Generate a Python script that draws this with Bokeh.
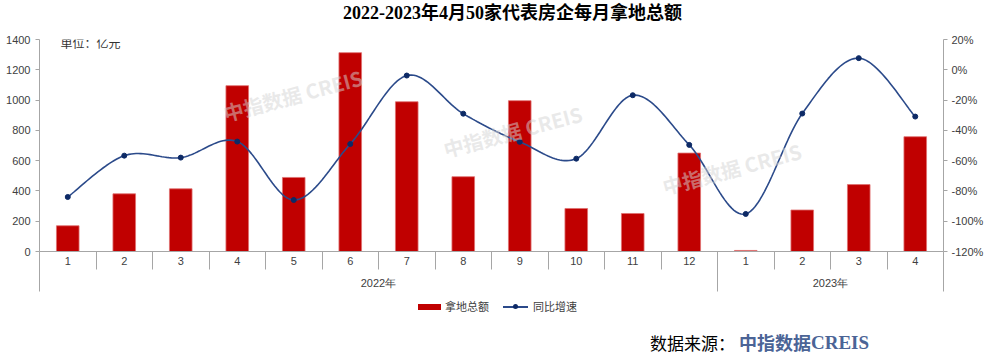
import numpy as np
from bokeh.plotting import figure
from bokeh.models import (Range1d, LinearAxis, FixedTicker, PrintfTickFormatter,
                          Label, Div)
from bokeh.layouts import column
from bokeh.embed import file_html
from bokeh.resources import INLINE

# ---------------- data ----------------
months = ["1", "2", "3", "4", "5", "6", "7", "8", "9", "10", "11", "12",
          "1", "2", "3", "4"]
years = ["2022年", "2023年"]
year_counts = [12, 4]
land_total = [170, 381, 414, 1095, 489, 1313, 989, 494, 996, 284, 251, 650,
              7, 274, 442, 758]               # 亿元
yoy_growth = [-84.0, -56.7, -58.0, -47.4, -86.0, -49.0, -3.8, -29.0, -47.6,
              -58.7, -16.8, -49.6, -95.2, -28.9, 7.7, -30.9]   # %
left_ticks = [0, 200, 400, 600, 800, 1000, 1200, 1400]
right_ticks = [-120, -100, -80, -60, -40, -20, 0, 20]
series_names = ["拿地总额", "同比增速"]
title_text = "2022-2023年4月50家代表房企每月拿地总额"
unit_text = "单位：亿元"
source_label = "数据来源："
source_brand = "中指数据"
source_brand_latin = "CREIS"
watermark = source_brand + " " + source_brand_latin

BAR_RED = "#c00000"
LINE_BLUE = "#2b4a8a"
DOT_BLUE = "#0d2a66"
AX = "#a6a6a6"
LBL = "#404040"

x = np.arange(1, len(months) + 1)


def smooth(xs, ys, n=24):
    """Smoothed display curve through the data points (Excel-style)."""
    P = np.column_stack([xs, ys]).astype(float)
    P = np.vstack([P[0], P, P[-1]])
    out = []
    t = np.linspace(0, 1, n, endpoint=False)[:, None]
    for i in range(1, len(P) - 2):
        p0, p1, p2, p3 = P[i - 1], P[i], P[i + 1], P[i + 2]
        seg = 0.5 * ((2 * p1) + (-p0 + p2) * t + (2 * p0 - 5 * p1 + 4 * p2 - p3) * t ** 2
                     + (-p0 + 3 * p1 - 3 * p2 + p3) * t ** 3)
        out.append(seg)
    out.append(P[-2][None, :])
    c = np.vstack(out)
    return c[:, 0], c[:, 1]


# ---------------- title (HTML row above the plot) ----------------
title_div = Div(text=('<div style="height:28px;display:flex;align-items:center;'
                      'padding-left:343px;white-space:nowrap;font-family:\'Liberation Serif\','
                      '\'Noto Sans CJK SC\';font-weight:bold;font-size:18px;color:#000">%s</div>')
                % title_text, width=986, height=28, margin=0)

# ---------------- plot ----------------
p = figure(width=986, height=268, x_range=Range1d(0.5, len(months) + 0.5),
           y_range=Range1d(0, 1400), output_backend="svg", toolbar_location=None,
           x_axis_location=None, y_axis_location=None,
           min_border_left=39, min_border_right=43, min_border_top=11,
           min_border_bottom=45, margin=0)
p.extra_y_ranges = {"pct": Range1d(-120, 20)}
p.grid.visible = False
p.outline_line_color = None


def style_axis(a):
    a.axis_line_color = AX
    a.major_tick_line_color = AX
    a.minor_tick_line_color = AX
    a.major_label_text_font = "Liberation Sans"
    a.major_label_text_font_size = "11px"
    a.major_label_text_color = LBL
    a.major_tick_in = 0
    a.minor_tick_in = 0
    a.minor_tick_out = 0


yl = LinearAxis(ticker=FixedTicker(ticks=left_ticks))
style_axis(yl)
yl.major_tick_out = 4
yl.major_label_standoff = 5
p.add_layout(yl, "left")

yr = LinearAxis(y_range_name="pct", ticker=FixedTicker(ticks=right_ticks),
                formatter=PrintfTickFormatter(format="%d%%"))
style_axis(yr)
yr.major_tick_out = 4
yr.major_label_standoff = 4
p.add_layout(yr, "right")

bounds = [i + 0.5 for i in range(len(months) + 1)]
xm = LinearAxis(ticker=FixedTicker(ticks=list(x), minor_ticks=bounds),
                major_label_overrides={int(i): m for i, m in zip(x, months)})
style_axis(xm)
xm.major_tick_out = 0
xm.minor_tick_out = 18
xm.major_label_standoff = -13
p.add_layout(xm, "below")

edges = np.concatenate([[0.5], 0.5 + np.cumsum(year_counts)])
centers = (edges[:-1] + edges[1:]) / 2
xy = LinearAxis(ticker=FixedTicker(ticks=list(centers), minor_ticks=list(edges)),
                major_label_overrides={float(c): y for c, y in zip(centers, years)})
style_axis(xy)
xy.axis_line_color = None
xy.major_tick_out = 0
xy.minor_tick_out = 24
xy.major_label_standoff = -15
p.add_layout(xy, "below")

bars = p.vbar(x=x, top=land_total, width=0.4, fill_color=BAR_RED,
              line_color="#e07070", line_width=0.8)

sx, sy = smooth(x, yoy_growth)
ln = p.line(sx, sy, y_range_name="pct", line_color=LINE_BLUE, line_width=1.6)
pts = p.scatter(x, yoy_growth, y_range_name="pct", size=5, marker="circle",
                fill_color=DOT_BLUE, line_color=DOT_BLUE)

p.add_layout(Label(x=0.87, y=1380, text=unit_text, text_font="Noto Sans CJK SC",
                   text_font_size="12px", text_color="#333333",
                   text_baseline="middle"))

# faint watermarks (only those lying fully inside the plot area)
wm_pos = [(3.83, 818), (7.72, 580), (11.6, 334)]
for wx, wy in wm_pos:
    p.add_layout(Label(x=wx, y=wy, text=watermark, angle=0.26,
                       text_font="Noto Sans CJK SC", text_font_size="20px",
                       text_font_style="bold", text_color="#d4d4d4",
                       text_alpha=0.5))

# ---------------- legend row (HTML) ----------------
legend_html = (
    '<div style="margin-left:418px;height:22px;display:flex;align-items:center;'
    'white-space:nowrap;font-family:\'Noto Sans CJK SC\';font-size:11px;color:%s">'
    '<span style="display:inline-block;width:23px;height:6px;background:%s"></span>'
    '<span style="margin-left:4px">%s</span>'
    '<span style="display:inline-block;position:relative;width:25px;height:2px;'
    'background:%s;margin-left:14px">'
    '<span style="position:absolute;left:10px;top:-2px;width:5px;height:5px;'
    'border-radius:50%%;background:%s"></span></span>'
    '<span style="margin-left:5px">%s</span></div>'
) % (LBL, BAR_RED, series_names[0], LINE_BLUE, DOT_BLUE, series_names[1])
leg = Div(text=legend_html, width=986, height=22, margin=0)

# ---------------- source line (HTML) ----------------
src = Div(text=('<div style="height:39px;box-sizing:border-box;padding-top:11px;'
                'padding-left:650px;display:flex;align-items:center;white-space:nowrap">'
                '<span style="font-family:\'Noto Sans CJK SC\';font-size:17px;color:#000">%s</span>'
                '<span style="font-family:\'Noto Sans CJK SC\';font-weight:bold;font-size:18px;'
                'color:#4b6496;margin-left:4px">%s</span>'
                '<span style="font-family:\'Liberation Serif\';font-weight:bold;font-size:19px;color:#4b6496">%s</span>'
                '</div>') % (source_label, source_brand, source_brand_latin),
          width=986, height=39, margin=0)

layout = column(title_div, p, leg, src, spacing=0)
open("out.html", "w").write(file_html(layout, INLINE))
